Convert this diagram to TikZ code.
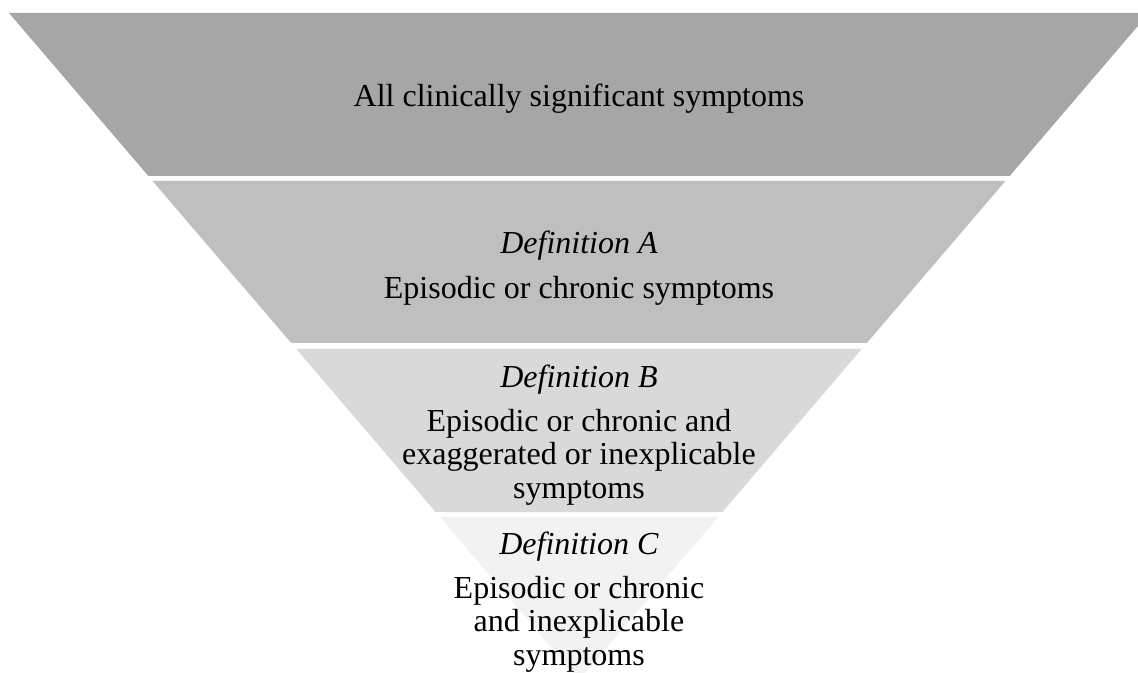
\documentclass[tikz,border=0pt]{standalone}
\usepackage{fontspec}
\setmainfont{Liberation Serif}
\usetikzlibrary{calc}
\definecolor{bandA}{HTML}{A6A6A6}
\definecolor{bandB}{HTML}{BFBFBF}
\definecolor{bandC}{HTML}{D9D9D9}
\definecolor{bandD}{HTML}{F2F2F2}
\tikzset{bandtext/.style={align=center, inner sep=0pt, font=\fontsize{24}{25}\selectfont}}

\begin{document}
\begin{tikzpicture}[x=0.75pt, y=-0.75pt]
			%%%%% START %%%%%
			
			\useasboundingbox (0, 0) rectangle (1138, 673);
			\clip (0, 0) rectangle (1138, 673);
			
			\fill[bandA] (9, 13) -- (1149, 13) -- (1009.6, 176) -- (148.4, 176) -- cycle;
			\fill[bandB] (152.6, 181) -- (1005.4, 181) -- (866.8, 343) -- (291.2, 343) -- cycle;
			\fill[bandC] (296.3, 349) -- (861.7, 349) -- (722.4, 512) -- (435.6, 512) -- cycle;
			\fill[bandD] (439.9, 517) -- (718.1, 517) -- (579, 679.7) -- cycle;
			
			\node[bandtext] (all) at (579, 99) {All clinically significant symptoms};
			\node[bandtext] (defA) at (579, 268) {\textit{Definition A}\\[8.5pt] Episodic or chronic symptoms};
			\node[bandtext] (defB) at (579, 435) {\textit{Definition B}\\[8pt] Episodic or chronic and\\ exaggerated or inexplicable\\ symptoms};
			\node[bandtext] (defC) at (579, 602) {\textit{Definition C}\\[8pt] Episodic or chronic\\ and inexplicable\\ symptoms};
			
			%%%%% END %%%%%
\end{tikzpicture}
\end{document}
